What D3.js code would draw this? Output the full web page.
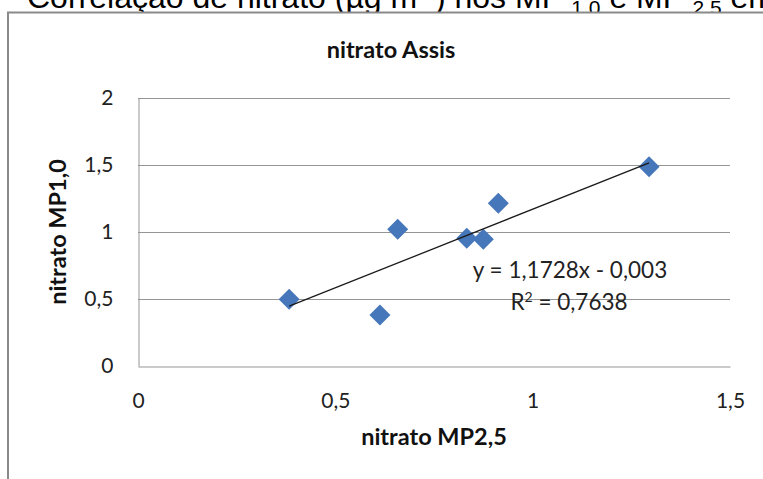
<!DOCTYPE html>
<html>
<head>
<meta charset="utf-8">
<script src="https://cdn.jsdelivr.net/npm/d3@7"></script>
<style>
  body { margin: 0; background: #fff; }
  svg { display: block; }
</style>
</head>
<body>
<svg id="chart" width="763" height="479"></svg>
<script>
// Nitrate concentrations, Assis: MP2,5 (x) vs MP1,0 (y)
const mp25 = [0.383, 0.658, 0.613, 0.833, 0.875, 0.913, 1.295];
const mp10 = [0.498, 1.020, 0.381, 0.953, 0.946, 1.214, 1.487];
const xTicks = [0, 0.5, 1, 1.5];
const yTicks = [0, 0.5, 1, 1.5, 2];
const trendSlope = 1.1728;
const trendIntercept = -0.003;
const trendR2 = 0.7638;

const ptBR = d3.formatLocale({ decimal: ",", thousands: ".", grouping: [3], currency: ["R$", ""] });
const fmtTick = ptBR.format("~g");

const svg = d3.select("#chart");
const W = 763, H = 479;
const font = "Lato, 'Open Sans', sans-serif";

const x = d3.scaleLinear().domain([0, 1.5]).range([138, 730]);
const y = d3.scaleLinear().domain([0, 2]).range([366, 98]);

// caption line above the chart frame (runs off the page edge)
const cap = svg.append("text")
  .attr("x", 27).attr("y", 8)
  .attr("font-family", "'Liberation Sans', Arial, sans-serif")
  .attr("font-size", 32).attr("fill", "#000");
cap.append("tspan").text("Correlação de nitrato (µg m");
cap.append("tspan").attr("font-size", 20).attr("dy", -12).text("-3");
cap.append("tspan").attr("dy", 12).text(") nos MP ");
cap.append("tspan").attr("font-size", 21).attr("dy", 7).text("1,0");
cap.append("tspan").attr("dy", -7).text(" e MP ");
cap.append("tspan").attr("font-size", 21).attr("dy", 7).text("2,5");
cap.append("tspan").attr("dy", -7).text(" em Assis");

// chart frame
svg.append("rect")
  .attr("x", 8).attr("y", 12.5)
  .attr("width", W + 20).attr("height", H + 20)
  .attr("fill", "#fff").attr("stroke", "#8a8a8a").attr("stroke-width", 2);

// horizontal gridlines
svg.append("g").selectAll("line").data(yTicks.filter(d => d > 0)).join("line")
  .attr("x1", x(0)).attr("x2", x(1.5))
  .attr("y1", d => Math.round(y(d)) + 0.5).attr("y2", d => Math.round(y(d)) + 0.5)
  .attr("stroke", "#959595").attr("stroke-width", 1);

// axes
const yAxis = d3.axisLeft(y).tickValues(yTicks).tickFormat(fmtTick).tickSize(0).tickPadding(25);
const gy = svg.append("g").attr("transform", `translate(${x(0) + 0.5},0)`).call(yAxis);
gy.select(".domain").attr("stroke", "#959595");
gy.selectAll("text").attr("font-family", font).attr("font-size", 21).attr("fill", "#222");

const xAxis = d3.axisBottom(x).tickValues(xTicks).tickFormat(fmtTick).tickSize(0).tickPadding(27);
const gx = svg.append("g").attr("transform", `translate(0,${Math.round(y(0)) + 0.5})`).call(xAxis);
gx.select(".domain").attr("stroke", "#959595");
gx.selectAll("text").attr("font-family", font).attr("font-size", 21).attr("fill", "#222");

// data markers
const pts = mp25.map((v, i) => ({ x: v, y: mp10[i] }));
const r = 10.5;
svg.append("g").selectAll("path").data(pts).join("path")
  .attr("transform", d => `translate(${x(d.x)},${y(d.y)})`)
  .attr("d", `M0,${-r}L${r},0L0,${r}L${-r},0Z`)
  .attr("fill", "#4677BA");

// linear trendline over the data range
const [xmin, xmax] = d3.extent(mp25);
svg.append("line")
  .attr("x1", x(xmin)).attr("y1", y(trendSlope * xmin + trendIntercept))
  .attr("x2", x(xmax)).attr("y2", y(trendSlope * xmax + trendIntercept))
  .attr("stroke", "#1a1a1a").attr("stroke-width", 1.3);

// trendline equation and R²
const fmt4 = ptBR.format(".4f"), fmt3 = ptBR.format(".3f");
const eq = svg.append("g").attr("font-family", font).attr("font-size", 22.5)
  .attr("fill", "#222").attr("text-anchor", "middle");
eq.append("text").attr("x", 570).attr("y", 278)
  .text(`y = ${fmt4(trendSlope)}x ${trendIntercept < 0 ? "-" : "+"} ${fmt3(Math.abs(trendIntercept))}`);
const r2 = eq.append("text").attr("x", 569).attr("y", 310);
r2.append("tspan").text("R");
r2.append("tspan").attr("font-size", 14).attr("dy", -8).text("2");
r2.append("tspan").attr("dy", 8).text(` = ${fmt4(trendR2)}`);

// titles
svg.append("text").attr("x", 391).attr("y", 58)
  .attr("text-anchor", "middle").attr("font-family", font).attr("font-weight", "bold")
  .attr("font-size", 23.5).attr("fill", "#111").text("nitrato Assis");

svg.append("text").attr("x", 434).attr("y", 445)
  .attr("text-anchor", "middle").attr("font-family", font).attr("font-weight", "bold")
  .attr("font-size", 23.5).attr("fill", "#111").text("nitrato MP2,5");

svg.append("text").attr("transform", "translate(66,232) rotate(-90)")
  .attr("text-anchor", "middle").attr("font-family", font).attr("font-weight", "bold")
  .attr("font-size", 23.5).attr("fill", "#111").text("nitrato MP1,0");
</script>
</body>
</html>
